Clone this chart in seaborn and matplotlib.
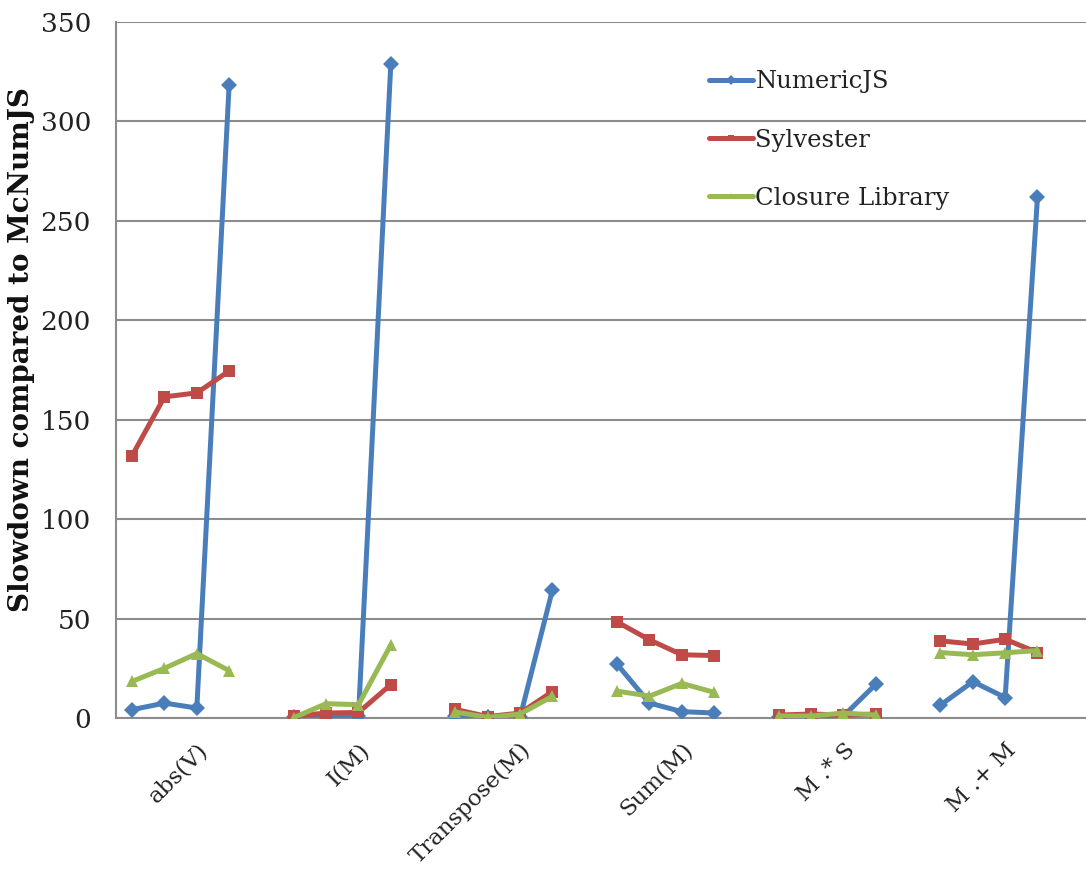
import numpy as np
import pandas as pd
import matplotlib
matplotlib.use("Agg")
import matplotlib.pyplot as plt
import seaborn as sns

# operations on the x axis, each with four problem sizes
categories = ["abs(V)", "I(M)", "Transpose(M)", "Sum(M)", "M .* S", "M .+ M"]
libraries = ["NumericJS", "Sylvester", "Closure Library"]

# slowdown values, 4 per operation
numericjs = [4.2, 7.5, 5.0, 318.5,
             0.5, 0.5, 1.0, 329.0,
             1.0, 0.3, 0.5, 64.5,
             27.0, 7.5, 3.2, 2.5,
             0.5, 0.5, 1.0, 17.0,
             6.5, 18.3, 10.3, 262.0]
sylvester = [132.0, 161.5, 163.5, 174.5,
             1.0, 2.5, 2.8, 16.8,
             4.3, 0.7, 2.5, 13.3,
             48.3, 39.3, 31.8, 31.4,
             1.5, 2.0, 1.5, 2.0,
             38.8, 37.2, 39.6, 32.9]
closure = [18.4, 25.0, 32.4, 23.8,
           0.2, 7.2, 6.7, 36.8,
           3.0, 0.3, 2.0, 10.9,
           13.5, 11.0, 17.4, 12.9,
           1.0, 1.0, 2.5, 1.5,
           32.9, 31.8, 32.8, 33.9]

series = {"NumericJS": numericjs, "Sylvester": sylvester, "Closure Library": closure}
colors = {"NumericJS": "#4A7EBB", "Sylvester": "#BE4B48", "Closure Library": "#98B954"}
markers = {"NumericJS": "D", "Sylvester": "s", "Closure Library": "^"}

rows = []
for lib in libraries:
    for i, v in enumerate(series[lib]):
        g, j = divmod(i, 4)
        rows.append({"lib": lib, "group": g, "x": g * 5 + j + 0.5, "value": v})
df = pd.DataFrame(rows)

sns.set_style("white")
plt.rcParams["font.family"] = ["DejaVu Serif"]

fig = plt.figure(figsize=(10.86, 8.77), dpi=100)
ax = fig.add_axes([0.1068, 0.1813, 0.8932, 0.7936])

sns.lineplot(data=df, x="x", y="value", hue="lib", style="lib", units="group",
             estimator=None, palette=colors, markers=markers, dashes=False,
             linewidth=3.6, markersize=8.5, markeredgewidth=0, ax=ax, zorder=3)

ax.set_xlim(0, 30)
ax.set_ylim(0, 350)
ax.set_yticks(np.arange(0, 351, 50))
ax.yaxis.grid(True, color="#8C8C8C", linewidth=1.5)
ax.set_axisbelow(True)

ax.set_xticks([g * 5 + 2.5 for g in range(len(categories))])
ax.set_xticklabels(categories, rotation=45, ha="right", rotation_mode="anchor",
                   fontsize=16.5, color="#222222")
ax.set_xticks(np.arange(0, 31), minor=True)
ax.tick_params(axis="x", which="major", length=0, pad=15)
ax.tick_params(axis="x", which="minor", length=7, width=1.5, color="#8C8C8C", direction="out")
ax.tick_params(axis="y", length=7, width=1.5, color="#8C8C8C", direction="out",
               labelsize=19, labelcolor="#222222", pad=11)

for s in ["top", "right"]:
    ax.spines[s].set_visible(False)
for s in ["left", "bottom"]:
    ax.spines[s].set_color("#8C8C8C")
    ax.spines[s].set_linewidth(1.5)

ax.set_xlabel("")
ax.set_ylabel("Slowdown compared to McNumJS", fontsize=20, fontweight="bold",
              color="#111111")
ax.yaxis.set_label_coords(-0.084, 0.529)

handles, labels = ax.get_legend_handles_labels()
for h in handles:
    h.set_markersize(5)
ax.legend(handles, labels, loc="upper left", bbox_to_anchor=(0.589, 0.962),
          frameon=False, fontsize=17.5, labelspacing=1.45, handlelength=1.8,
          handletextpad=0.1, labelcolor="#222222")

fig.savefig("out.png", dpi=100)
